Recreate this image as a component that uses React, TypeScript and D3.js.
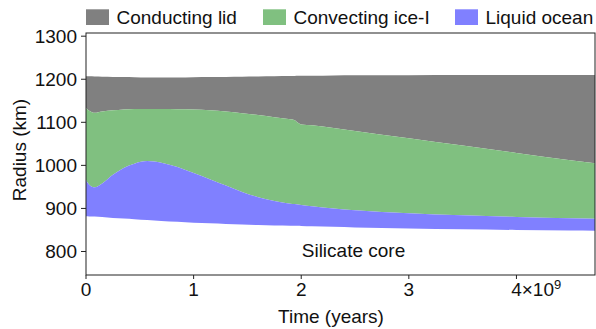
import React from "react";
import * as d3 from "d3";

// time in units of 1e9 years
const times = [0, 0.03, 0.08, 0.15, 0.25, 0.35, 0.45, 0.57, 0.7, 0.85, 1.0, 1.15, 1.3, 1.45, 1.6, 1.75, 1.9, 1.94, 1.97, 2.0, 2.1, 2.3, 2.5, 3.0, 3.5, 4.0, 4.5, 4.73];

// layer boundaries (km)
const lidTop = [1207, 1207, 1206.5, 1206, 1205.5, 1205, 1204.5, 1204, 1204, 1204, 1204.5, 1205, 1205.5, 1206, 1206.5, 1207, 1207.5, 1207.5, 1208, 1208, 1208, 1208.5, 1209, 1209.5, 1210, 1210, 1210, 1210];
const iceTop = [1133, 1127, 1122, 1125, 1128, 1130, 1131, 1131, 1131, 1130.5, 1130, 1128, 1125, 1121, 1117, 1112, 1107, 1105, 1099, 1095, 1093, 1087, 1080, 1063, 1046, 1029, 1012, 1005];
const oceanTop = [966, 955, 949, 958, 978, 994, 1004, 1010, 1006, 996, 982, 968, 953, 938, 926, 917, 911, 910, 909, 908, 905, 900, 896, 889, 884, 880, 877, 876];
const coreTop = [882, 881.5, 881, 880, 878, 876.5, 875, 873, 871, 869, 867, 865.5, 864, 862.5, 861.5, 860.5, 860, 859.5, 859.5, 859, 858.5, 857.5, 856, 853.5, 851.5, 850, 848.5, 848];

const xTicks = [0, 1, 2, 3, 4];
const yTicks = [800, 900, 1000, 1100, 1200, 1300];

const legendItems = [
  { label: "Conducting lid", color: "#808080" },
  { label: "Convecting ice-I", color: "#80c080" },
  { label: "Liquid ocean", color: "#8080ff" },
];

const W = 596;
const H = 329;
const left = 86, right = 595, top = 33, bottom = 275;
const font = "'Liberation Sans', Arial, Helvetica, sans-serif";

export default function App() {
  const x = d3.scaleLinear().domain([0, 4.73]).range([left, right]);
  const y = d3.scaleLinear().domain([745.4, 1307.4]).range([bottom, top]);

  const band = (lo: number[], hi: number[]) =>
    d3.area<number>()
      .x((_, i) => x(times[i]))
      .y0((_, i) => y(lo[i]))
      .y1((_, i) => y(hi[i]))
      .curve(d3.curveMonotoneX)(times) || "";

  return (
    <div>
      <style>{`body{margin:0}`}</style>
      <svg width={W} height={H} style={{ display: "block", fontFamily: font }}>
        <path d={band(iceTop, lidTop)} fill={legendItems[0].color} />
        <path d={band(oceanTop, iceTop)} fill={legendItems[1].color} />
        <path d={band(coreTop, oceanTop)} fill={legendItems[2].color} />

        <text x={353.5} y={256.5} fontSize={19} textAnchor="middle" fill="#111">Silicate core</text>

        {/* frame */}
        <rect x={left} y={top} width={right - left} height={bottom - top} fill="none" stroke="#222" strokeWidth={1} />

        {yTicks.map((t) => (
          <g key={t}>
            <line x1={left - 5} x2={left} y1={y(t)} y2={y(t)} stroke="#222" />
            <text x={left - 9} y={y(t) + 6.5} fontSize={19} textAnchor="end" fill="#111">{t}</text>
          </g>
        ))}

        {xTicks.map((t) => (
          <g key={t}>
            <line x1={x(t)} x2={x(t)} y1={bottom} y2={bottom + 4} stroke="#222" />
            {t < 4 ? (
              <text x={x(t)} y={296} fontSize={19} textAnchor="middle" fill="#111">{t}</text>
            ) : (
              <text x={x(t) - 5.3} y={296} fontSize={19} textAnchor="start" fill="#111">
                {t}×10<tspan dy={-7} fontSize={13}>9</tspan>
              </text>
            )}
          </g>
        ))}

        <text x={331} y={323} fontSize={19} textAnchor="middle" fill="#111">Time (years)</text>
        <text transform={`translate(26,150) rotate(-90)`} fontSize={19} textAnchor="middle" fill="#111">Radius (km)</text>

        {legendItems.map((d, i) => {
          const xs = [86, 263, 455][i];
          return (
            <g key={d.label}>
              <rect x={xs} y={9.3} width={23} height={15.7} fill={d.color} />
              <text x={xs + 30.5} y={24} fontSize={19} fill="#111">{d.label}</text>
            </g>
          );
        })}
      </svg>
    </div>
  );
}
